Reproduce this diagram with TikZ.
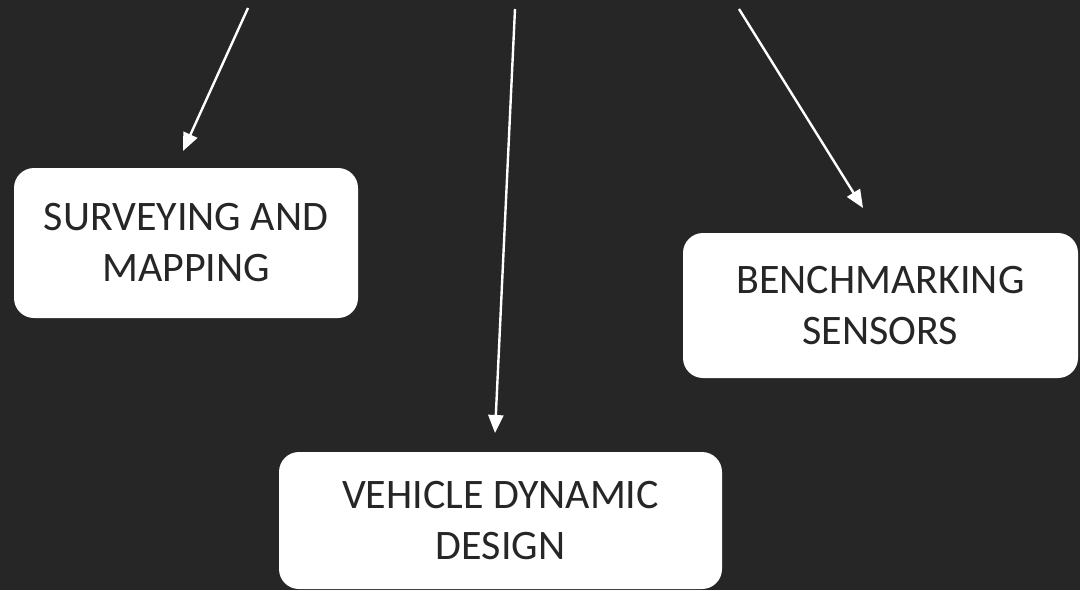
\documentclass[tikz,border=0pt]{standalone}
\usepackage{fontspec}
\setmainfont{Carlito}
\usetikzlibrary{arrows.meta}
\definecolor{bgdark}{HTML}{262626}
\definecolor{ink}{HTML}{262626}
\begin{document}
\begin{tikzpicture}[x=1pt,y=-1pt,
  topic/.style={draw=none, fill=white, rounded corners=20pt, align=center,
    text=ink, inner sep=0pt, font=\fontsize{42}{51}\selectfont},
  link/.style={draw=white, line width=2.4pt,
    -{Triangle[length=18pt,width=15pt]}}]
  % page and background
  \fill[bgdark] (0,0) rectangle (1080,590);
  \useasboundingbox (0,0) rectangle (1080,590);

  % topic boxes
  \node[topic, minimum width=344pt, minimum height=150pt] (surv) at (186,243)
    {SURVEYING AND\\MAPPING};
  \node[topic, minimum width=395pt, minimum height=145pt] (bench) at (880.5,305.5)
    {BENCHMARKING\\SENSORS};
  \node[topic, minimum width=443pt, minimum height=137pt] (veh) at (500.5,520.5)
    {VEHICLE DYNAMIC\\DESIGN};

  % arrow origins and tips
  \coordinate (s1) at (248,8);
  \coordinate (t1) at (183,151);
  \coordinate (s2) at (515,9);
  \coordinate (t2) at (495,433);
  \coordinate (s3) at (739,9);
  \coordinate (t3) at (863,208);

  \draw[link] (s1) -- (t1);
  \draw[link] (s2) -- (t2);
  \draw[link] (s3) -- (t3);
\end{tikzpicture}
\end{document}
